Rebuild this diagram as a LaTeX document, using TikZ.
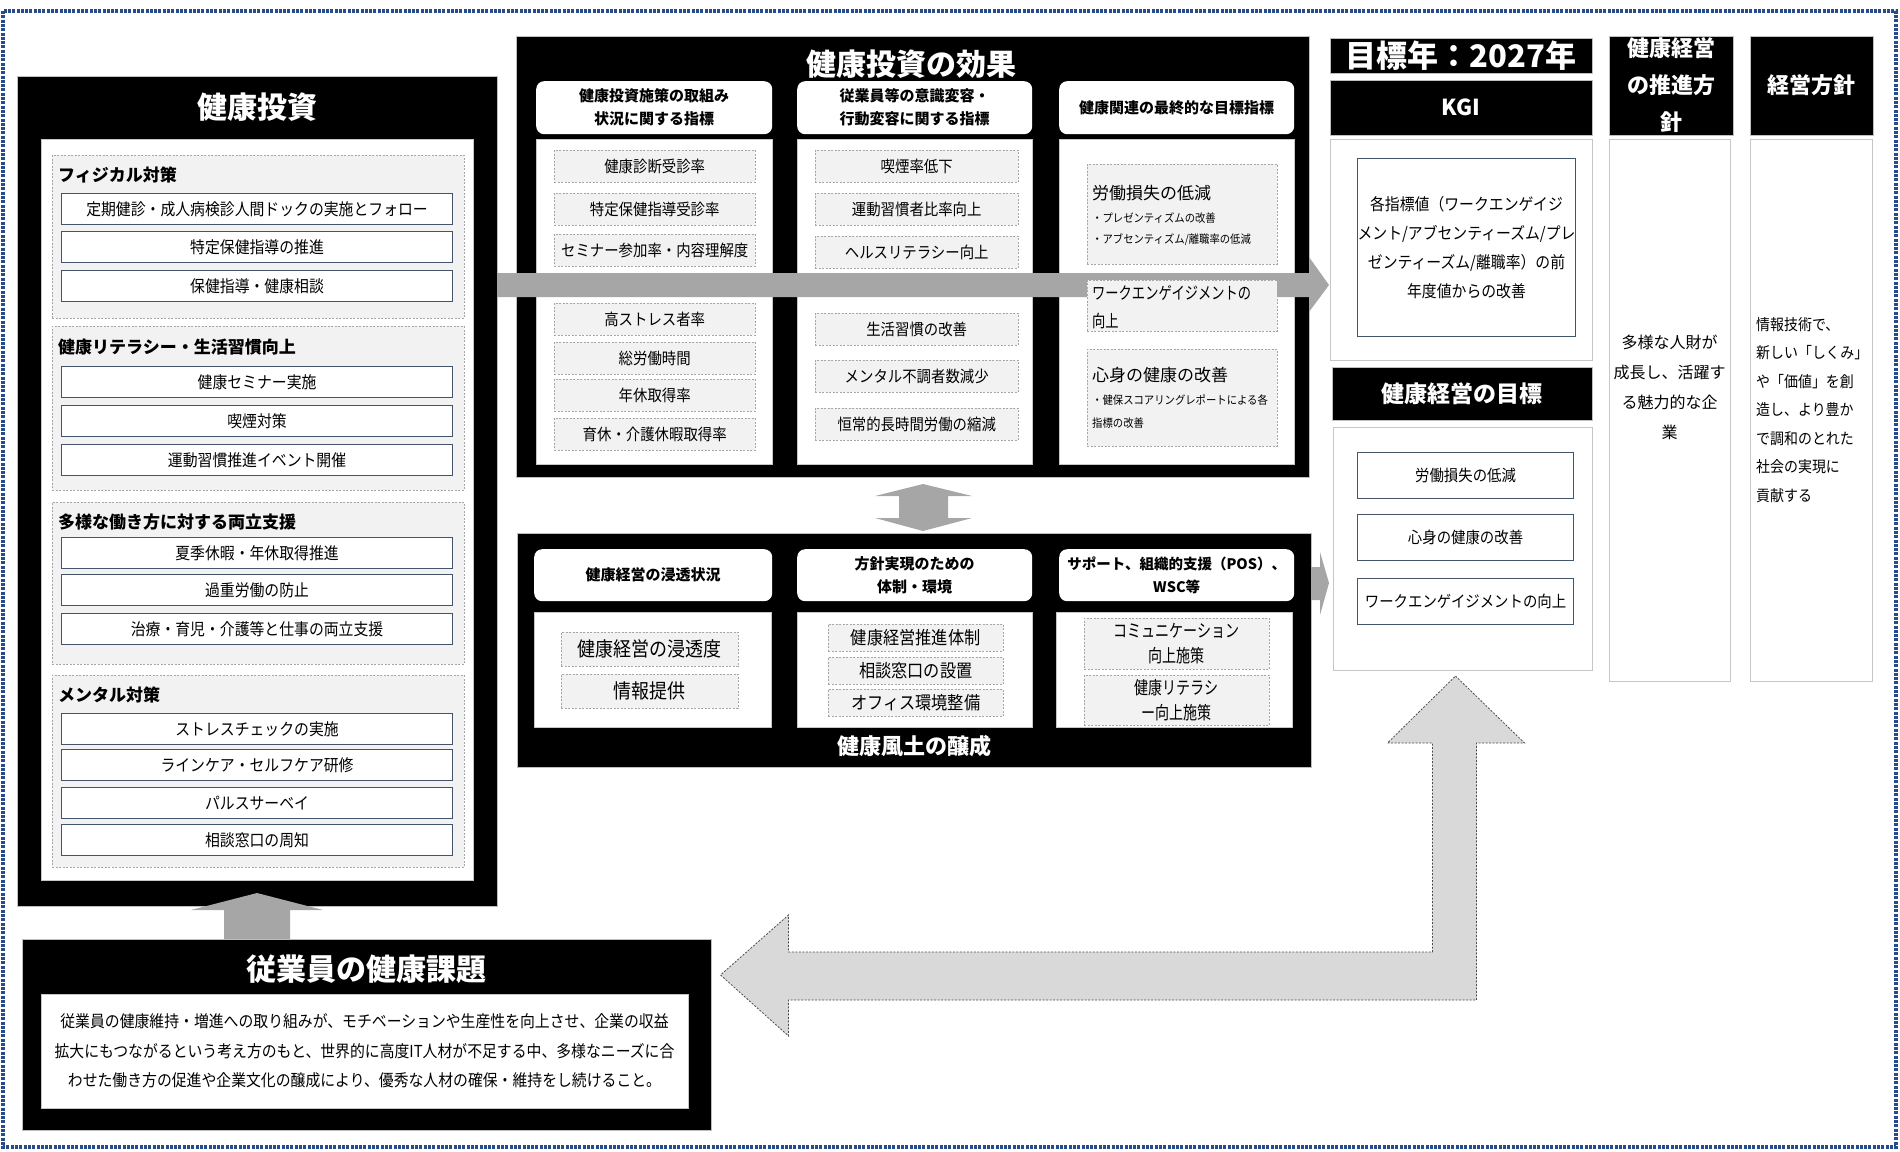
\documentclass[tikz,border=0pt]{standalone}
\usepackage{fontspec}
\setmainfont{Noto Sans CJK JP}
\newfontfamily\jpnarrow[FakeStretch=0.9]{Noto Sans CJK JP}
\newfontfamily\jpcond[FakeStretch=0.78]{Noto Sans CJK JP}
\usetikzlibrary{calc}
\definecolor{navyline}{RGB}{68,84,106}
\definecolor{dotblue}{RGB}{40,75,140}
\definecolor{arrowgray}{RGB}{166,166,166}
\definecolor{lightarrow}{RGB}{217,217,217}
\definecolor{boxgray}{RGB}{242,242,242}
\tikzset{
  blackbox/.style={rectangle,draw=gray!50,fill=black,anchor=north west,inner sep=0pt,outer sep=0pt,text=white,align=center},
  wpanel/.style={rectangle,draw=gray!45,fill=white,anchor=north west,inner sep=0pt,outer sep=0pt},
  rhead/.style={rectangle,rounded corners=8pt,fill=white,anchor=north west,inner sep=0pt,align=center,font=\bfseries\fontsize{15}{23}\selectfont},
  grp/.style={rectangle,draw=gray!70,dash pattern=on 2pt off 1.5pt,fill=boxgray,anchor=north west,inner sep=0pt},
  grptitle/.style={anchor=west,inner sep=0pt,font=\bfseries\fontsize{17}{20}\selectfont},
  nbox/.style={rectangle,draw=navyline,line width=1.1pt,fill=white,anchor=north west,inner sep=0pt,align=center},
  ibox/.style={nbox,minimum width=391,minimum height=31,font=\jpnarrow\fontsize{16.5}{20}\selectfont},
  ditem/.style={rectangle,draw=gray!70,dash pattern=on 2pt off 1.5pt,fill=boxgray,anchor=north west,inner sep=0pt,align=center},
  ltext/.style={anchor=west,inner sep=0pt},
  wtitle/.style={text=white,inner sep=0pt,font=\bfseries\fontsize{30}{36}\selectfont},
  fat/.style={fill=arrowgray,draw=none},
  hollow/.style={fill=lightarrow,draw=gray!60!black,line width=0.8pt,dash pattern=on 2pt off 1.5pt}
}

\begin{document}
\begin{tikzpicture}[x=1pt,y=-1pt]
\useasboundingbox (0,0) rectangle (1900,1151);
\draw[dotblue,line width=4.5pt,dash pattern=on 3pt off 1.3pt] (3,11) rectangle (1896,1147);

% 健康投資
\node[blackbox,minimum width=480,minimum height=830] (invbox) at (17,76) {};
\node[wtitle] (invtitle) at (257,107) {健康投資};
\node[wpanel,minimum width=432,minimum height=741] (invpanel) at (41,139) {};
\node[grp,minimum width=412,minimum height=163] (physgrp) at (52,155) {};
\node[grptitle] (phystitle) at (58,175) {フィジカル対策};
\node[ibox] (phys1) at (61,193) {定期健診・成人病検診人間ドックの実施とフォロー};
\node[ibox] (phys2) at (61,231) {特定保健指導の推進};
\node[ibox] (phys3) at (61,270) {保健指導・健康相談};
\node[grp,minimum width=412,minimum height=164] (litgrp) at (52,326) {};
\node[grptitle] (littitle) at (58,347) {健康リテラシー・生活習慣向上};
\node[ibox] (lit1) at (61,366) {健康セミナー実施};
\node[ibox] (lit2) at (61,405) {喫煙対策};
\node[ibox] (lit3) at (61,444) {運動習慣推進イベント開催};
\node[grp,minimum width=412,minimum height=162] (workgrp) at (52,502) {};
\node[grptitle] (worktitle) at (58,522) {多様な働き方に対する両立支援};
\node[ibox] (work1) at (61,537) {夏季休暇・年休取得推進};
\node[ibox] (work2) at (61,574) {過重労働の防止};
\node[ibox] (work3) at (61,613) {治療・育児・介護等と仕事の両立支援};
\node[grp,minimum width=412,minimum height=192] (mentgrp) at (52,675) {};
\node[grptitle] (menttitle) at (58,695) {メンタル対策};
\node[ibox] (ment1) at (61,713) {ストレスチェックの実施};
\node[ibox] (ment2) at (61,749) {ラインケア・セルフケア研修};
\node[ibox] (ment3) at (61,787) {パルスサーベイ};
\node[ibox] (ment4) at (61,824) {相談窓口の周知};

% 従業員の健康課題
\node[blackbox,minimum width=689,minimum height=191] (issuebox) at (22,939) {};
\node[wtitle] (issuetitle) at (366,969) {従業員の健康課題};
\node[wpanel,minimum width=647,minimum height=114,align=center,font=\jpnarrow\fontsize{16.5}{29.5}\selectfont] (issuetext) at (41,994)
  {従業員の健康維持・増進への取り組みが、モチベーションや生産性を向上させ、企業の収益\\
   拡大にもつながるという考え方のもと、世界的に高度IT人材が不足する中、多様なニーズに合\\
   わせた働き方の促進や企業文化の醸成により、優秀な人材の確保・維持をし続けること。};
\fill[fat] ($(invbox.south)+(0,-13)$) -- ++(66,17) -- ++(-33,0) -- ++(0,29) -- ++(-66,0) -- ++(0,-29) -- ++(-33,0) -- cycle;

% 健康投資の効果
\node[blackbox,minimum width=793,minimum height=441] (effbox) at (516,36) {};
\node[wtitle] (efftitle) at (911,64) {健康投資の効果};
\node[rhead,minimum width=236,minimum height=53] (effh1) at (536,81) {健康投資施策の取組み\\状況に関する指標};
\node[rhead,minimum width=235,minimum height=53] (effh2) at (797,81) {従業員等の意識変容・\\行動変容に関する指標};
\node[rhead,minimum width=235,minimum height=53] (effh3) at (1059,81) {健康関連の最終的な目標指標};
\node[wpanel,minimum width=236,minimum height=325] (effp1) at (536,139) {};
\node[wpanel,minimum width=235,minimum height=325] (effp2) at (797,139) {};
\node[wpanel,minimum width=235,minimum height=325] (effp3) at (1059,139) {};
\tikzset{every node/.append style={font=\jpnarrow\fontsize{16}{20}\selectfont}}
\node[ditem,minimum width=201,minimum height=32] (ea1) at (554,150) {健康診断受診率};
\node[ditem,minimum width=201,minimum height=32] (ea2) at (554,193) {特定保健指導受診率};
\node[ditem,minimum width=201,minimum height=32] (ea3) at (554,234) {セミナー参加率・内容理解度};
\node[ditem,minimum width=201,minimum height=32] (ea4) at (554,303) {高ストレス者率};
\node[ditem,minimum width=201,minimum height=32] (ea5) at (554,342) {総労働時間};
\node[ditem,minimum width=201,minimum height=32] (ea6) at (554,379) {年休取得率};
\node[ditem,minimum width=201,minimum height=32] (ea7) at (554,418) {育休・介護休暇取得率};
\node[ditem,minimum width=203,minimum height=32] (eb1) at (815,150) {喫煙率低下};
\node[ditem,minimum width=203,minimum height=32] (eb2) at (815,193) {運動習慣者比率向上};
\node[ditem,minimum width=203,minimum height=32] (eb3) at (815,236) {ヘルスリテラシー向上};
\node[ditem,minimum width=203,minimum height=32] (eb4) at (815,313) {生活習慣の改善};
\node[ditem,minimum width=203,minimum height=32] (eb5) at (815,360) {メンタル不調者数減少};
\node[ditem,minimum width=203,minimum height=32] (eb6) at (815,408) {恒常的長時間労働の縮減};
\node[ditem,minimum width=190,minimum height=100] (ec1) at (1087,164) {};
\node[ltext,font=\fontsize{17}{20}\selectfont] (ec1a) at (1092,193) {労働損失の低減};
\node[ltext,font=\jpnarrow\fontsize{11.5}{14}\selectfont] (ec1b) at (1092,218) {・プレゼンティズムの改善};
\node[ltext,font=\jpnarrow\fontsize{11.5}{14}\selectfont] (ec1c) at (1092,240) {・アブセンティズム/離職率の低減};
\fill[fat] ($(invbox.north east)+(0,197)$) -- ++(812,0) -- ++(0,-16) -- ++(20,28) -- ++(-20,27) -- ++(0,-15) -- ++(-812,0) -- cycle;
\node[ditem,minimum width=190,minimum height=51] (ec2) at (1087,280) {};
\node[ltext,font=\jpcond\fontsize{17}{20}\selectfont] (ec2a) at (1092,293) {ワークエンゲイジメントの};
\node[ltext,font=\jpcond\fontsize{17}{20}\selectfont] (ec2b) at (1092,321) {向上};
\node[ditem,minimum width=190,minimum height=97] (ec3) at (1087,349) {};
\node[ltext,font=\fontsize{17}{20}\selectfont] (ec3a) at (1092,375) {心身の健康の改善};
\node[ltext,font=\jpnarrow\fontsize{11.5}{14}\selectfont] (ec3b) at (1092,400) {・健保スコアリングレポートによる各};
\node[ltext,font=\jpnarrow\fontsize{11.5}{14}\selectfont] (ec3c) at (1092,423) {指標の改善};
\fill[fat] ($(effbox.south)+(10.5,7)$) -- ++(49,12) -- ++(-24,0) -- ++(0,22) -- ++(24,0) -- ++(-49,13) -- ++(-48,-13) -- ++(24,0) -- ++(0,-22) -- ++(-24,0) -- cycle;

% 健康風土の醸成
\node[blackbox,minimum width=794,minimum height=234] (climbox) at (517,533) {};
\node[wtitle,font=\bfseries\fontsize{22}{26}\selectfont] (climtitle) at (914,746) {健康風土の醸成};
\node[rhead,minimum width=238,minimum height=52] (climh1) at (534,549) {健康経営の浸透状況};
\node[rhead,minimum width=235,minimum height=52] (climh2) at (797,549) {方針実現のための\\体制・環境};
\node[rhead,minimum width=235,minimum height=52,font=\bfseries\fontsize{14.5}{23}\selectfont] (climh3) at (1059,549) {サポート、組織的支援（POS）、\\WSC等};
\node[wpanel,minimum width=237,minimum height=115] (climp1) at (534,612) {};
\node[wpanel,minimum width=235,minimum height=115] (climp2) at (797,612) {};
\node[wpanel,minimum width=236,minimum height=115] (climp3) at (1056,612) {};
\node[ditem,minimum width=177,minimum height=34,font=\jpnarrow\fontsize{20}{24}\selectfont] (ca1) at (561,632) {健康経営の浸透度};
\node[ditem,minimum width=177,minimum height=34,font=\jpnarrow\fontsize{20}{24}\selectfont] (ca2) at (561,674) {情報提供};
\node[ditem,minimum width=175,minimum height=27,font=\jpnarrow\fontsize{18}{22}\selectfont] (cb1) at (828,624) {健康経営推進体制};
\node[ditem,minimum width=175,minimum height=27,font=\jpnarrow\fontsize{18}{22}\selectfont] (cb2) at (828,657) {相談窓口の設置};
\node[ditem,minimum width=175,minimum height=27,font=\jpnarrow\fontsize{18}{22}\selectfont] (cb3) at (828,689) {オフィス環境整備};
\node[ditem,minimum width=185,minimum height=51,font=\jpcond\fontsize{18}{25}\selectfont] (cc1) at (1084,618) {コミュニケーション\\向上施策};
\node[ditem,minimum width=185,minimum height=50,font=\jpcond\fontsize{18}{25}\selectfont] (cc2) at (1084,675) {健康リテラシ\\ー向上施策};
\fill[fat] ($(climbox.north east)+(0,34)$) -- ++(9,0) -- ++(0,-15) -- ++(9,31) -- ++(-9,32) -- ++(0,-15) -- ++(-9,0) -- cycle;

% KGI・目標
\node[blackbox,minimum width=262,minimum height=35,font=\bfseries\fontsize{31}{36}\selectfont] (yearbox) at (1330,38) {目標年：2027年};
\node[blackbox,minimum width=262,minimum height=55,font=\bfseries\fontsize{22}{26}\selectfont] (kgihead) at (1330,80) {KGI};
\node[wpanel,minimum width=262,minimum height=221] (kgipanel) at (1330,139) {};
\node[nbox,minimum width=216,minimum height=178,font=\jpnarrow\fontsize{16.5}{29}\selectfont] (kgiitem) at (1357,158)
  {各指標値（ワークエンゲイジ\\メント/アブセンティーズム/プレ\\ゼンティーズム/離職率）の前\\年度値からの改善};
\node[blackbox,minimum width=260,minimum height=53,font=\bfseries\fontsize{23}{26}\selectfont] (goalhead) at (1332,367) {健康経営の目標};
\node[wpanel,minimum width=259,minimum height=243] (goalpanel) at (1333,427) {};
\node[nbox,minimum width=216,minimum height=46,font=\jpnarrow\fontsize{16}{20}\selectfont] (goal1) at (1357,452) {労働損失の低減};
\node[nbox,minimum width=216,minimum height=46,font=\jpnarrow\fontsize{16}{20}\selectfont] (goal2) at (1357,514) {心身の健康の改善};
\node[nbox,minimum width=216,minimum height=46,font=\jpnarrow\fontsize{16}{20}\selectfont] (goal3) at (1357,578) {ワークエンゲイジメントの向上};

% 推進方針・経営方針
\node[blackbox,minimum width=124,minimum height=99,font=\bfseries\fontsize{22}{37}\selectfont] (polhead) at (1609,36) {健康経営\\の推進方\\針};
\node[wpanel,minimum width=121,minimum height=542] (polpanel) at (1609,139) {};
\node[align=center,inner sep=0pt,font=\fontsize{16}{30}\selectfont] (poltext) at (1669.5,387) {多様な人財が\\成長し、活躍す\\る魅力的な企\\業};
\node[blackbox,minimum width=123,minimum height=99,font=\bfseries\fontsize{22}{26}\selectfont] (mgmthead) at (1750,36) {経営方針};
\node[wpanel,minimum width=122,minimum height=542] (mgmtpanel) at (1750,139) {};
\node[ltext,align=left,font=\jpnarrow\fontsize{15.5}{28.5}\selectfont] (mgmttext) at (1756,410) {情報技術で、\\新しい「しくみ」\\や「価値」を創\\造し、より豊か\\で調和のとれた\\社会の実現に\\貢献する};

% 目標 <-> 課題
\coordinate (uptip) at ($(goalpanel.south)+(-7,6)$);
\draw[hollow] (uptip) -- ++(69,67) -- ++(-48,0) -- ++(0,257) -- ++(-688,0) -- ++(0,36) -- ++(-68,-61) -- ++(68,-60) -- ++(0,37) -- ++(644,0) -- ++(0,-209) -- ++(-45,0) -- cycle;
\end{tikzpicture}
\end{document}
